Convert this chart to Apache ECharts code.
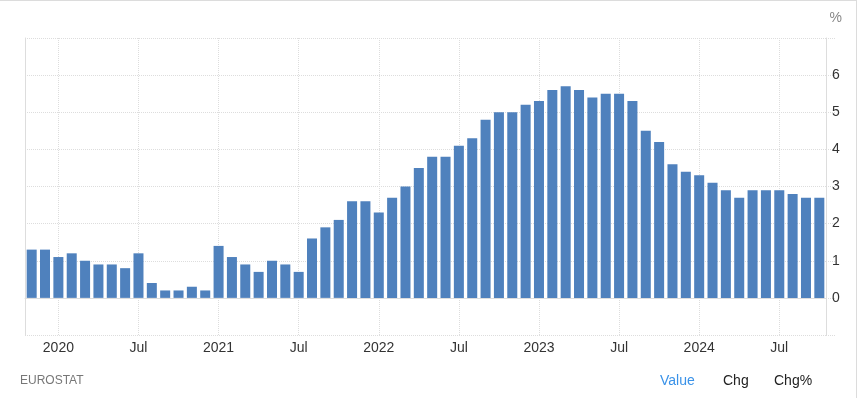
<!DOCTYPE html>
<html>
<head>
<meta charset="utf-8">
<script src="https://cdn.jsdelivr.net/npm/echarts@6/dist/echarts.min.js"></script>
<style>
  html, body { margin: 0; padding: 0; background: #fff; }
  #chart {
    width: 856px;
    height: 397px;
    border-top: 1px solid #dcdcdc;
    border-right: 1px solid #dcdcdc;
  }
</style>
</head>
<body>
<div id="chart"></div>
<script>
// monthly categories, Nov 2019 .. Oct 2024
const months = [
  '2019-11', '2019-12',
  '2020-01', '2020-02', '2020-03', '2020-04', '2020-05', '2020-06',
  '2020-07', '2020-08', '2020-09', '2020-10', '2020-11', '2020-12',
  '2021-01', '2021-02', '2021-03', '2021-04', '2021-05', '2021-06',
  '2021-07', '2021-08', '2021-09', '2021-10', '2021-11', '2021-12',
  '2022-01', '2022-02', '2022-03', '2022-04', '2022-05', '2022-06',
  '2022-07', '2022-08', '2022-09', '2022-10', '2022-11', '2022-12',
  '2023-01', '2023-02', '2023-03', '2023-04', '2023-05', '2023-06',
  '2023-07', '2023-08', '2023-09', '2023-10', '2023-11', '2023-12',
  '2024-01', '2024-02', '2024-03', '2024-04', '2024-05', '2024-06',
  '2024-07', '2024-08', '2024-09', '2024-10',
]

// core inflation, %
const values = [
  1.3, 1.3,
  1.1, 1.2, 1.0, 0.9, 0.9, 0.8,
  1.2, 0.4, 0.2, 0.2, 0.3, 0.2,
  1.4, 1.1, 0.9, 0.7, 1.0, 0.9,
  0.7, 1.6, 1.9, 2.1, 2.6, 2.6,
  2.3, 2.7, 3.0, 3.5, 3.8, 3.8,
  4.1, 4.3, 4.8, 5.0, 5.0, 5.2,
  5.3, 5.6, 5.7, 5.6, 5.4, 5.5,
  5.5, 5.3, 4.5, 4.2, 3.6, 3.4,
  3.3, 3.1, 2.9, 2.7, 2.9, 2.9,
  2.9, 2.8, 2.7, 2.7,
]

const yTicks = [0, 1, 2, 3, 4, 5, 6]
const footerTabs = ['Value', 'Chg', 'Chg%']

const isMarked = (m) => m.endsWith('-01') || m.endsWith('-07')
const monthLabel = (m) => (m.endsWith('-01') ? m.slice(0, 4) : 'Jul')

const chart = echarts.init(document.getElementById('chart'))

const gridColor = '#dddddd'
const font = 'Liberation Sans, Arial, sans-serif'

chart.setOption({
  animation: false,
  backgroundColor: '#fff',
  textStyle: { fontFamily: font },
  grid: { left: 25, right: 30, top: 37, bottom: 63 },
  xAxis: {
    type: 'category',
    data: months,
    boundaryGap: true,
    axisLine: { lineStyle: { color: gridColor } },
    axisTick: { show: false },
    splitLine: { show: false },
    axisLabel: {
      interval: (idx, val) => isMarked(val),
      formatter: monthLabel,
      color: '#333',
      fontSize: 14,
      margin: 6,
    },
  },
  yAxis: [
    {
      type: 'value',
      position: 'right',
      min: -1,
      max: 7,
      interval: 1,
      axisLine: { show: true, lineStyle: { color: gridColor } },
      axisTick: { show: true, length: 10, lineStyle: { color: gridColor, type: [1, 1] } },
      splitLine: { lineStyle: { color: gridColor, type: [1, 1] } },
      axisLabel: {
        color: '#333',
        fontSize: 14,
        margin: 6,
        formatter: (v) => (yTicks.includes(v) ? String(v) : ''),
      },
    },
    {
      type: 'value',
      position: 'left',
      min: -1,
      max: 7,
      interval: 1,
      axisLine: { show: true, lineStyle: { color: gridColor } },
      axisTick: { show: false },
      axisLabel: { show: false },
      splitLine: { show: false },
    },
  ],
  series: [
    {
      // holder for the dotted Jan / Jul verticals, kept under the bars
      type: 'line',
      data: [],
      z: 0,
      silent: true,
      markLine: {
        silent: true,
        z: 0,
        symbol: ['none', 'none'],
        label: { show: false },
        lineStyle: { color: gridColor, type: [1, 1], width: 1 },
        data: months.filter(isMarked).map((m) => ({ xAxis: m })),
      },
    },
    {
      type: 'bar',
      data: values,
      z: 5,
      barCategoryGap: '25%',
      itemStyle: { color: '#4f81bd' },
    },
  ],
  graphic: [
    {
      type: 'text',
      right: 14,
      top: 10,
      style: { text: '%', fill: '#888', fontSize: 14, fontFamily: font },
    },
    {
      type: 'text',
      left: 20,
      top: 374,
      style: { text: 'EUROSTAT', fill: '#777', fontSize: 12, fontFamily: font },
    },
    {
      type: 'text',
      left: 660,
      top: 373,
      style: { text: footerTabs[0], fill: '#3a92e8', fontSize: 14, fontFamily: font },
    },
    {
      type: 'text',
      left: 723,
      top: 373,
      style: { text: footerTabs[1], fill: '#222', fontSize: 14, fontFamily: font },
    },
    {
      type: 'text',
      left: 774,
      top: 373,
      style: { text: footerTabs[2], fill: '#222', fontSize: 14, fontFamily: font },
    },
  ],
})
</script>
</body>
</html>
